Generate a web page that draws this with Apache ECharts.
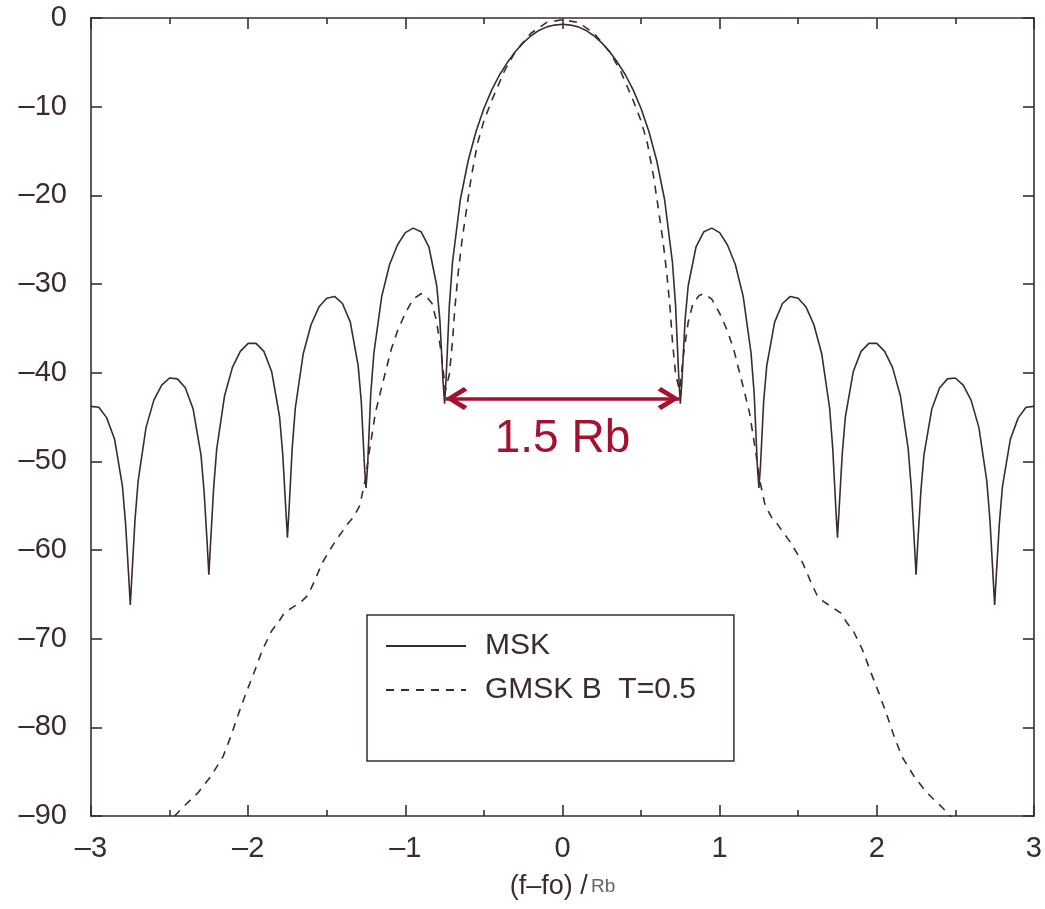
<!DOCTYPE html>
<html>
<head>
<meta charset="utf-8">
<title>MSK / GMSK spectrum</title>
<script src="https://cdn.jsdelivr.net/npm/echarts@6/dist/echarts.min.js"></script>
<style>
    html, body { margin: 0; padding: 0; background: #fff; }
    #chart { width: 1045px; height: 909px; }
</style>
</head>
<body>
<div id="chart"></div>
<script>
'use strict';

const MSK_F = [
    0, 0.05, 0.1, 0.15, 0.2, 0.25, 0.3, 0.35, 0.4, 0.45, 0.5, 0.55, 0.6, 0.65, 0.7, 0.72, 0.74, 0.75, 0.76, 0.78,
    0.8, 0.85, 0.9, 0.95, 1.0, 1.05, 1.1, 1.15, 1.2, 1.22, 1.24, 1.25, 1.26, 1.28, 1.3, 1.35, 1.4, 1.45, 1.5,
    1.55, 1.6, 1.65, 1.7, 1.72, 1.74, 1.75, 1.76, 1.78, 1.8, 1.85, 1.9, 1.95, 2.0, 2.05, 2.1, 2.15, 2.2, 2.22,
    2.24, 2.25, 2.26, 2.28, 2.3, 2.35, 2.4, 2.45, 2.5, 2.55, 2.6, 2.65, 2.7, 2.72, 2.74, 2.75, 2.76, 2.78, 2.8,
    2.85, 2.9, 2.95, 3.0
];
const MSK_DB = [
    -0.7, -0.8, -1.0, -1.4, -2.0, -2.8, -3.8, -5.0, -6.4, -8.1, -10.2, -12.8, -16.1, -20.5, -27.6, -32.5, -40.5, -43.5, -41.0, -34.1,
    -30.2, -25.8, -24.1, -23.7, -24.2, -25.6, -27.8, -31.4, -37.8, -42.4, -50.5, -53.0, -50.5, -43.3, -39.2, -34.3, -32.2, -31.4, -31.6,
    -32.6, -34.6, -37.9, -44.0, -48.6, -55.5, -58.6, -55.5, -49.2, -45.0, -39.9, -37.6, -36.7, -36.7, -37.6, -39.4, -42.6, -48.6, -53.1,
    -59.5, -62.8, -59.5, -53.5, -49.3, -44.1, -41.7, -40.7, -40.6, -41.4, -43.1, -46.2, -52.2, -56.6, -63.0, -66.2, -63.0, -57.0, -52.8,
    -47.5, -45.1, -43.9, -43.8
];

const GMSK_F = [
    0, 0.1, 0.2, 0.3, 0.37, 0.45, 0.5, 0.54, 0.58, 0.61, 0.64, 0.665, 0.685, 0.7, 0.72, 0.745, 0.77, 0.8, 0.83,
    0.87, 0.9, 0.95, 1.0, 1.05, 1.09, 1.15, 1.19, 1.23, 1.255, 1.29, 1.33, 1.36, 1.4, 1.445, 1.49, 1.53, 1.58,
    1.62, 1.66, 1.72, 1.77, 1.81, 1.85, 1.91, 1.96, 2.015, 2.06, 2.11, 2.16, 2.24, 2.32, 2.42, 2.5, 2.6
];
const GMSK_DB = [
    -0.2, -0.5, -1.7, -3.8, -6.0, -9.3, -11.6, -14.1, -17.9, -21.5, -25.2, -29.0, -32.8, -36.5, -40.2, -42.0, -38.0, -34.3, -32.2,
    -31.3, -31.1, -31.7, -33.3, -35.3, -37.4, -41.6, -44.5, -49.0, -52.1, -55.0, -56.3, -56.9, -57.9, -59.0, -60.3, -61.5, -63.6,
    -65.1, -65.8, -66.5, -67.1, -68.2, -69.1, -71.3, -73.7, -76.2, -78.4, -81.0, -83.3, -85.6, -87.4, -89.1, -90.6, -92.5
];

// 1.5 Rb main lobe marker
const BAND_EDGE = 0.745;
const BAND_LEVEL = -42.9;

const INK = '#3b2c2c';
const RED = '#a5122f';
const FONT = 'Liberation Sans';

// open arrow head pointing up, padded above so the tip sits at the symbol centre
const CHEVRON = 'path://M11 -22 L11.01 -22 L11 -21.99 Z M11 0 L22 18.5 L18.5 22 L11 8.5 L3.5 22 L0 18.5 Z';

const mirror = (fs, vals) => {
    const left = fs.slice(1).map((f, i) => [-f, vals[i + 1]]).reverse();
    const right = fs.map((f, i) => [f, vals[i]]);
    return left.concat(right);
};

const minus = v => String(v).replace('-', '\u2013');

const frameAxis = extra => Object.assign({
    type: 'value',
    axisLine: { show: true, onZero: false, lineStyle: { color: INK, width: 1.6 } },
    axisTick: { show: true, inside: true, length: 11, lineStyle: { color: INK, width: 1.6 } },
    splitLine: { show: false }
}, extra);

const chart = echarts.init(document.getElementById('chart'));

chart.setOption({
    backgroundColor: '#fff',
    animation: false,
    grid: { left: 91, top: 18, right: 5, bottom: 93 },
    legend: {
        orient: 'vertical',
        left: 367,
        top: 615,
        padding: [16, 38, 56, 18],
        itemGap: 14,
        itemWidth: 80,
        itemHeight: 26,
        borderColor: INK,
        borderWidth: 1.5,
        itemStyle: { opacity: 0 },
        textStyle: { fontFamily: FONT, fontSize: 30, color: INK, padding: [0, 0, 0, 14] },
        data: ['MSK', 'GMSK B  T=0.5']
    },
    xAxis: [
        frameAxis({
            min: -3, max: 3, interval: 1,
            minorTick: { show: true, splitNumber: 2, length: 6, lineStyle: { color: INK, width: 1.6 } },
            axisLabel: { margin: 18, fontFamily: FONT, fontSize: 29, color: INK, formatter: minus },
            name: '{a|(f\u2013fo) /} {b|Rb}',
            nameLocation: 'middle',
            nameGap: 57,
            nameTextStyle: {
                rich: {
                    a: { fontFamily: FONT, fontSize: 27, color: INK },
                    b: { fontFamily: FONT, fontSize: 19, color: '#6a6060' }
                }
            }
        }),
        frameAxis({
            position: 'top',
            min: -3, max: 3, interval: 1,
            minorTick: { show: true, splitNumber: 2, length: 6, lineStyle: { color: INK, width: 1.6 } },
            axisLabel: { show: false }
        })
    ],
    yAxis: [
        frameAxis({
            min: -90, max: 0, interval: 10,
            axisLabel: { margin: 24, fontFamily: FONT, fontSize: 29, color: INK, formatter: minus }
        }),
        frameAxis({
            position: 'right',
            min: -90, max: 0, interval: 10,
            axisLabel: { show: false }
        })
    ],
    series: [
        {
            name: 'MSK',
            type: 'line',
            data: mirror(MSK_F, MSK_DB),
            showSymbol: false,
            symbol: 'none',
            lineStyle: { color: INK, width: 1.6 },
            itemStyle: { color: INK },
            markLine: {
                silent: true,
                symbol: [CHEVRON, CHEVRON],
                symbolSize: [23, 44],
                lineStyle: { color: RED, width: 3.5, type: 'solid' },
                label: {
                    show: true,
                    position: 'insideMiddleBottom',
                    distance: 18,
                    formatter: '1.5 Rb',
                    fontFamily: FONT,
                    fontSize: 46,
                    color: RED
                },
                data: [[
                    { coord: [-BAND_EDGE, BAND_LEVEL], itemStyle: { color: RED } },
                    { coord: [BAND_EDGE, BAND_LEVEL], itemStyle: { color: RED } }
                ]]
            }
        },
        {
            name: 'GMSK B  T=0.5',
            type: 'line',
            data: mirror(GMSK_F, GMSK_DB),
            showSymbol: false,
            symbol: 'none',
            lineStyle: { color: INK, width: 1.6, type: [8, 7] },
            itemStyle: { color: INK }
        }
    ]
});
</script>
</body>
</html>
